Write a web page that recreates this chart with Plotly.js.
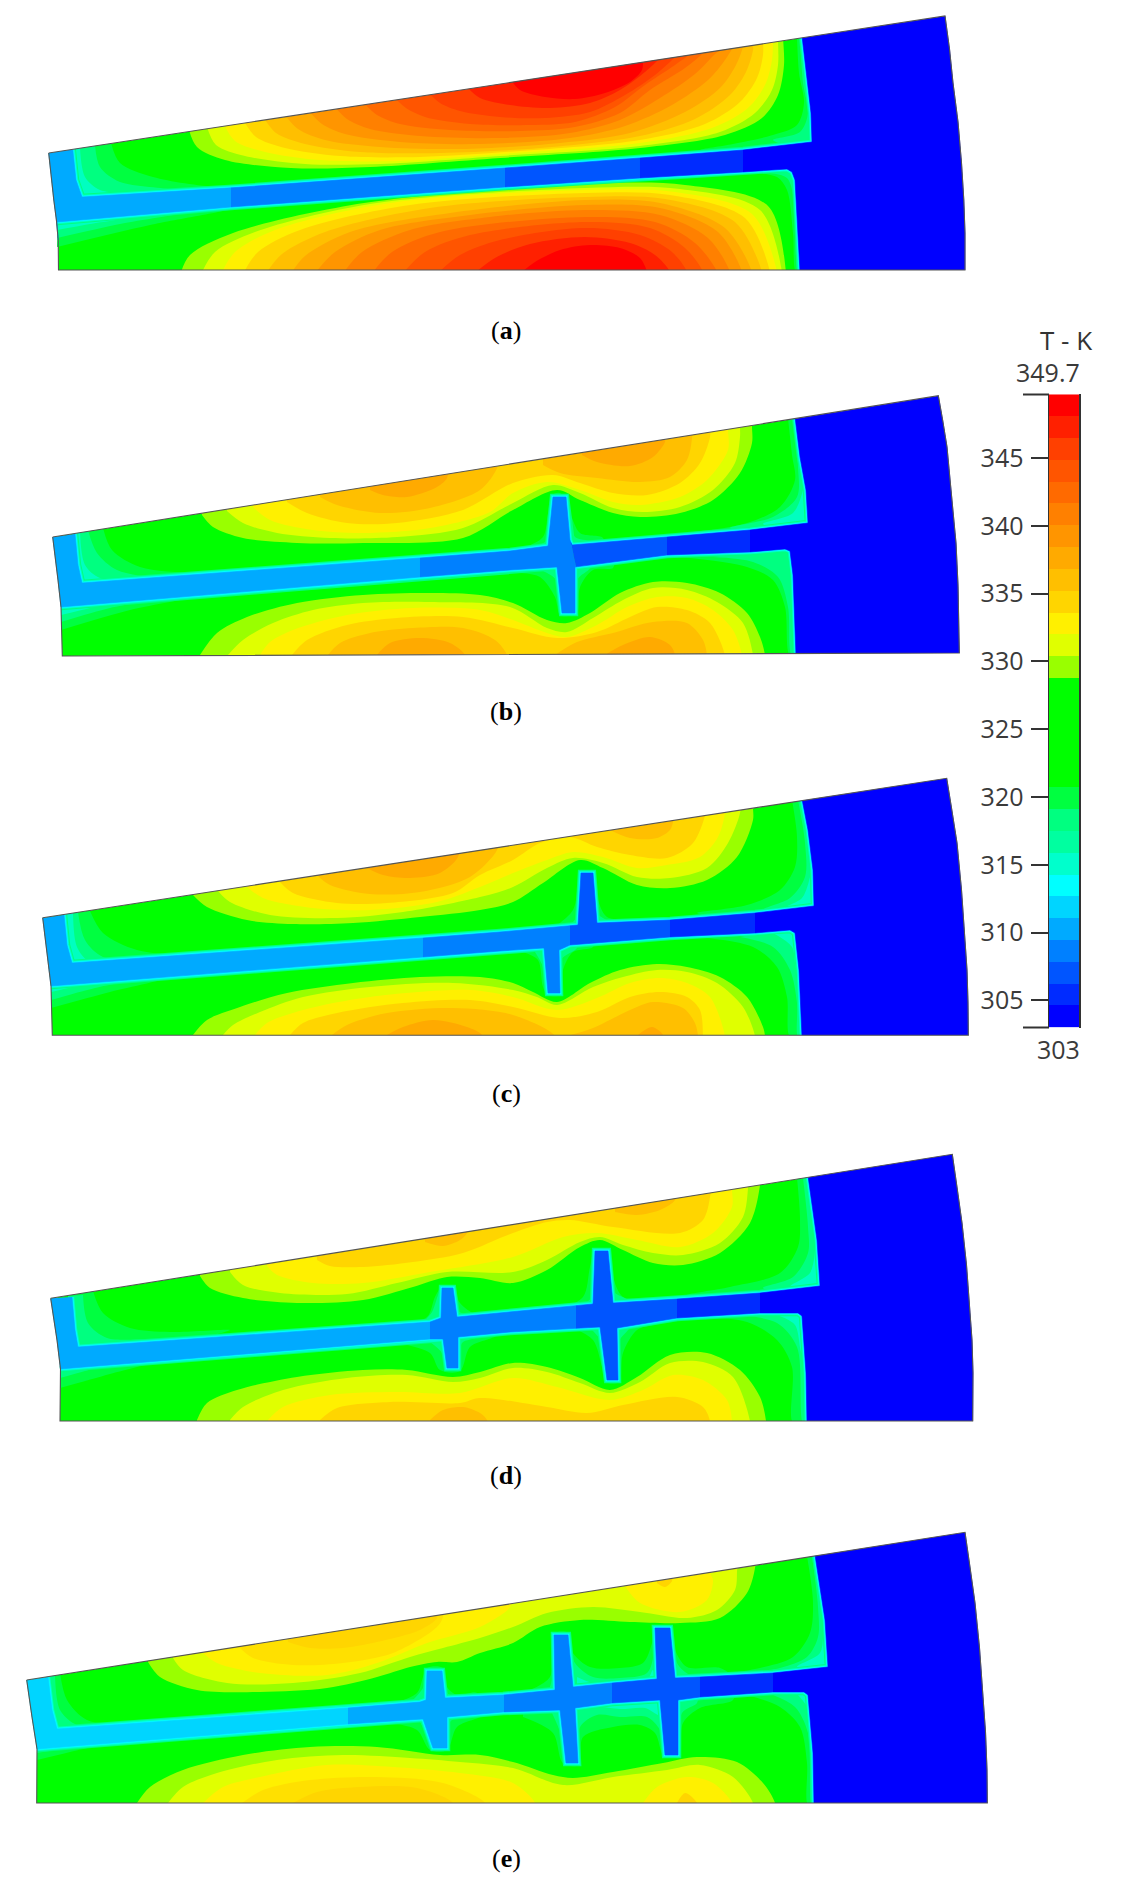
<!DOCTYPE html>
<html><head><meta charset="utf-8">
<script src="https://cdn.plot.ly/plotly-3.0.1.min.js"></script>
<style>html,body{margin:0;padding:0;background:#fff}#c{width:1139px;height:1903px}#c .scatterlayer{filter:blur(0.55px)}</style>
</head><body><div id="c"></div>
<script>
// ---------- colour scale ----------
const bandEdges=[303,304.61,306.22,307.83,309.44,311.05,312.66,314.27,315.88,317.49,319.10,320.71,322.32,323.93,325.54,327.16,328.77,330.38,331.99,333.60,335.21,336.82,338.43,340.04,341.65,343.26,344.87,346.48,348.09,349.7];
const bandColors=['#0000ff','#002bff','#0055ff','#0080ff','#00aaff','#00d5ff','#00ffff','#00ffcc','#00ffa0','#00ff80','#00ff40','#00ff00','#00ff00','#00ff00','#00ff00','#00ff00','#99ff00','#e0ff00','#fff000','#ffd500','#ffbf00','#ffaa00','#ff9500','#ff8000','#ff6a00','#ff5500','#ff4000','#ff2000','#ff0000'];
const bandTemps=[303.8,305.4,307,308.6,310.2,311.9,313.5,315.1,316.7,318.3,319.9,321.5,323.1,324.7,326.3,328,329.6,331.2,332.8,334.4,336,337.6,339.2,340.8,342.5,344.1,345.7,347.3,348.9];
const scaleTicks=[305,310,315,320,325,330,335,340,345];
const level={'00':'#ff0000','2a':'#ff2000','40':'#ff4000','55':'#ff5500','6a':'#ff6a00','80':'#ff8000','95':'#ff9500','aa':'#ffaa00','bf':'#ffbf00','d5':'#ffd500','de':'#ffe000','ee':'#fff000','e0':'#e0ff00','99':'#99ff00','g1':'#00ff40','g2':'#00ff80','g3':'#00ffc0','c1':'#00e5ff','c2':'#00aaff'};
const coldColors={aa:'#00aaff',d5:'#00d5ff','80':'#0080ff','55':'#0055ff','2b':'#002bff','00':'#0000ff'};
const captions=['a','b','c','d','e'];
const captionY=[330,711,1093,1475,1858];

// ---------- panel (a) ----------
const aEdge={tl:[48.7,153],tr:[945,16],right:[949.5,49,953,83,958,122,961.5,163,963.8,200,965,233],br:[965,270],bl:[58.5,270],left:[58.2,240,56.4,220,53.8,200]};
const aWallUp=[72.7,149,76,180,82,197,229,188,505,168,640,158,743,150,812,142,811,113,806,70,802,36];
const aWallLo=[57,222,231,207,505,187,640,178,743,172,787,169,792,172,795,180,798,233,800,272];
const aSplits=[[231,231],[505,505],[640,640],[743,743]];
const aCold=['aa','80','55','2b','00'];
const aUpper=[
['99',[189,130,197,147,225,160,291,168,370,167,500,158,640,148,725,135,762,118,778,95,784,65,783,36]],
['e0',[207,127,216,145,245,156,305,164,380,164,500,156,640,146,720,132,755,113,772,90,778,65,778,38]],
['ee',[224,124,235,141,265,152,320,160,400,161,500,154,640,143,712,128,748,108,765,85,772,60,773,38]],
['d5',[244,121,256,137,285,148,340,156,420,157,520,151,640,140,705,124,740,102,757,78,763,55,763,40]],
['bf',[264,118,276,133,305,144,360,152,440,153,540,148,640,136,695,119,730,95,746,72,753,50,753,42]],
['aa',[285,115,298,129,325,140,380,147,460,149,560,143,630,133,685,112,720,88,736,65,743,46]],
['95',[309,111,322,124,345,134,400,142,480,144,570,138,625,126,672,105,708,80,725,60,733,46]],
['80',[335,107,347,119,370,129,420,136,500,138,570,133,620,120,660,98,695,74,714,55,722,47]],
['6a',[364,103,377,115,400,124,450,130,520,131,575,127,620,113,650,90,685,68,702,54,707,47]],
['55',[395,98,406,108,425,117,470,124,530,125,575,122,615,107,645,85,675,65,690,54,695,49]],
['40',[429,93,440,103,460,111,500,117,545,118,590,112,625,95,655,75,672,60,682,50]],
['2a',[467,87,480,98,510,105,550,108,590,103,620,90,645,72,660,58,665,52]],
['00',[511,80,520,90,545,97,575,99,605,93,630,82,642,70,643,58]]];
const aLower=[
['99',[181,272,190,255,233,233,364,203,585,184,685,185,768,206,786,272]],
['e0',[202,272,215,252,255,232,370,204,585,188,680,189,760,210,782,272]],
['ee',[222,272,235,252,275,230,390,203,585,190,675,192,752,214,777,272]],
['d5',[244,272,258,252,300,230,410,205,585,193,670,195,745,218,770,272]],
['bf',[267,272,282,254,325,232,430,208,585,197,665,199,735,222,762,272]],
['aa',[292,272,305,256,350,232,450,213,585,200,660,203,725,228,752,272]],
['95',[316,272,335,252,380,230,470,215,585,205,660,208,718,232,742,272]],
['80',[344,272,362,252,410,230,490,217,585,210,660,215,708,238,730,272]],
['6a',[373,272,392,252,440,232,585,217,655,222,695,243,717,272]],
['55',[404,272,425,252,470,235,585,222,650,228,685,248,703,272]],
['40',[439,272,460,255,500,240,585,228,640,235,672,252,687,272]],
['2a',[476,272,495,258,530,244,585,237,630,243,655,255,670,272]],
['00',[522,272,535,262,560,250,590,245,620,248,640,258,647,272]]];
const aFans=[
['g1',[111,143,120,163,153,177,218,187,265,185,82,200,70,143]],
['g1',[57,247,150,225,235,208,58,222]],
['g1',[797,36,799,73,804,103,797,125,773,135,733,144,700,150,812,146,800,36]],
['g1',[753,173,777,177,787,190,793,233,796,272,801,272,793,168]],
['g2',[95,145,100,167,120,182,170,190,82,200,70,145]],
['g2',[57,238,120,224,182,213,58,222]],
['g2',[800,36,803,83,808,113,800,132,773,140,812,146,803,36]],
['g2',[770,173,787,178,794,200,798,272,801,272,793,168]],
['g3',[80,148,85,177,100,190,125,194,80,200,70,148]],
['g3',[57,230,90,224,127,218,58,222]]];

// ---------- panel (b) ----------
const bEdge={tl:[52.7,537],tr:[938.3,395.7],right:[942.8,421,947,447,951,490,956,543,958,585,959,627],br:[959.3,653],bl:[62.3,656],left:[61,607,58,580]};
const bWallUp=[75,534,78,565,82,583,420,558,510,551,548,546,553,497,566,497,570,540,572,545,667,537,750,530,808,523,806,490,800,457,795,417];
const bWallLo=[61,607,420,577,510,570,557,567,562,613,575,613,575,567,667,555,750,552,785,549,790,551,793,575,795,620,796,656];
const bSplits=[[420,420],[571,576],[667,667],[750,750]];
const bCold=['aa','80','55','2b','00'];
const bUpper=[
['99',[202,515,213,527,243,538,297,543,363,543,463,538,513,510,557,490,580,500,613,513,640,517,680,513,713,500,740,473,752,443,752,427]],
['e0',[227,511,243,523,277,533,330,538,397,537,463,528,513,503,553,485,580,493,613,508,643,512,680,507,713,490,735,463,740,437,740,427]],
['ee',[253,507,270,520,313,530,363,533,430,528,490,512,513,493,547,482,580,490,613,502,640,505,680,497,707,480,728,450,728,430]],
['d5',[287,502,307,513,347,523,397,523,463,510,513,483,553,475,580,483,613,493,647,495,680,483,700,463,710,437,710,425]],
['bf',[320,497,337,505,380,513,430,508,480,490,497,468]],
['bf',[543,465,560,473,597,478,640,482,670,477,687,460,692,438]],
['aa',[370,490,383,495,407,497,437,487,447,478]],
['aa',[582,455,597,462,630,466,653,457,665,442,665,438]]];
const bLower=[
['99',[200,655,217,633,247,617,297,603,363,595,430,593,480,595,513,603,547,620,567,623,590,613,620,593,653,582,687,583,720,593,747,613,760,637,765,655]],
['e0',[228,655,243,640,273,623,313,610,363,603,430,602,510,607,547,628,567,632,593,618,623,600,653,588,687,590,717,602,743,623,753,655]],
['ee',[260,655,270,642,293,630,347,615,413,608,480,610,513,620,547,633,567,637,597,625,627,607,657,597,687,598,713,610,733,630,742,655]],
['d5',[292,655,307,640,347,625,397,618,463,617,513,628,557,638,597,632,630,617,657,607,687,610,710,623,725,655]],
['bf',[328,655,340,643,370,633,413,628,463,628,495,640,507,655]],
['bf',[555,655,577,642,613,633,653,622,687,623,703,640,707,655]],
['aa',[377,655,390,643,420,638,450,643,465,655]],
['aa',[605,655,623,645,650,637,670,645,675,655]]];
const bFans=[
['g1',[103,528,112,550,140,567,197,573,263,571,82,590,75,530]],
['g1',[61,630,130,610,197,596,61,607]],
['g1',[788,418,792,455,795,480,780,507,747,523,687,533,647,538,810,530,800,418]],
['g1',[680,557,747,567,773,580,785,607,790,656,800,656,790,545]],
['g1',[523,548,543,537,548,513,552,495,560,493,570,513,580,533,603,538,603,552,523,552]],
['g1',[520,573,540,577,555,597,560,615,568,616,577,613,580,587,593,570,613,568,613,560,520,565]],
['g2',[88,530,97,553,117,570,160,578,197,577,82,590,75,532]],
['g2',[61,622,110,608,157,599,61,607]],
['g2',[793,418,798,467,797,497,773,517,730,528,812,530,800,418]],
['g2',[713,557,753,562,778,577,788,607,792,656,800,656,790,545]],
['g2',[540,545,550,537,552,507,560,496,567,510,575,537,590,542,590,552,540,552]],
['g2',[543,571,556,580,561,614,575,614,577,580,590,568,590,560,543,565]],
['g3',[80,531,85,565,100,578,130,581,82,590,72,533]],
['g3',[61,615,90,608,113,603,61,607]],
['g3',[803,490,793,513,763,524,812,530]],
['c1',[805,505,808,520,790,523,812,525]]];

// ---------- panel (c) ----------
const cEdge={tl:[42.7,917.7],tr:[946.7,778.3],right:[951.5,808,957,843,961.5,890,965,937,967,970,968,1003],br:[968.3,1035.3],bl:[52.3,1035.3],left:[51,986,47,953]};
const cWallUp=[64,915,67,945,72,963,423,938,500,932,578,925,581,873,593,873,597,923,670,920,755,913,814,906,813,870,808,830,802,799];
const cWallLo=[51,986,423,957,500,951,544,948,548,993,560,993,559,950,570,945,670,937,755,933,790,930,795,933,799,970,802,1037];
const cSplits=[[423,423],[570,570],[670,670],[755,755]];
const cCold=['aa','80','55','2b','00'];
const cUpper=[
['99',[193,895,207,907,247,920,293,924,353,923,420,917,480,910,513,902,543,883,580,860,603,868,637,885,670,888,707,880,737,857,753,820,753,808]],
['e0',[218,891,230,902,270,915,337,918,403,912,480,897,513,887,547,868,573,858,603,863,637,877,670,878,707,868,728,843,740,813]],
['ee',[247,887,263,898,313,908,370,910,437,902,480,887,513,873,547,860,573,852,603,857,637,868,667,865,700,857,718,837,725,813]],
['d5',[280,882,293,893,337,903,387,903,453,893,480,875,513,860,540,843,570,837,597,847,630,855,667,858,693,843,705,815]],
['bf',[318,876,330,885,370,894,420,892,470,877,497,850]],
['bf',[610,830,630,838,657,838,670,830,673,822]],
['aa',[367,868,383,875,410,878,440,873,458,857]]];
const cLower=[
['99',[193,1035,207,1020,240,1007,287,993,353,983,420,977,480,977,513,983,533,992,557,1002,590,983,620,970,657,964,687,967,720,977,747,997,763,1027,765,1036]],
['e0',[223,1035,233,1025,260,1012,303,997,370,987,453,983,513,990,537,997,557,1005,593,987,623,977,657,970,687,972,717,983,743,1007,755,1036]],
['ee',[255,1035,267,1023,303,1010,370,997,470,990,513,997,557,1010,597,998,630,983,660,978,687,983,710,997,725,1036]],
['d5',[290,1035,303,1023,337,1013,403,1003,470,1000,513,1007,560,1018,597,1012,630,997,660,992,687,997,700,1010,703,1036]],
['bf',[332,1035,347,1025,387,1013,453,1008,513,1015,555,1036]],
['bf',[567,1036,593,1028,630,1010,653,1002,683,1008,695,1023,698,1036]],
['aa',[387,1035,403,1027,433,1020,467,1027,482,1035]],
['aa',[638,1035,652,1027,663,1035]]];
const cFans=[
['g1',[90,911,103,933,137,950,187,955,260,952,72,970,60,913]],
['g1',[51,1008,110,992,170,977,51,986]],
['g1',[792,800,797,837,795,867,780,890,747,905,697,913,815,915,805,800]],
['g1',[697,937,753,947,777,967,787,997,790,1037,803,1037,795,925]],
['g1',[553,928,573,910,578,883,580,872,593,872,597,897,607,917,637,922,637,935,553,935]],
['g1',[523,952,538,960,543,987,548,995,560,995,563,970,573,952,593,947,593,940,523,945]],
['g2',[78,912,85,940,103,957,153,960,72,970,62,914]],
['g2',[51,1000,95,988,137,979,51,986]],
['g2',[798,800,805,843,805,877,790,898,763,910,815,915,805,800]],
['g2',[740,937,773,947,790,970,797,1003,798,1037,803,1037,795,925]],
['g2',[570,925,579,913,580,873,594,873,597,913,610,923,610,935,570,935]],
['g2',[535,952,543,967,548,994,561,994,561,960,577,948,577,940,535,945]],
['g3',[73,913,77,947,90,962,120,963,72,970,62,914]],
['g3',[51,992,72,987,93,982,51,986]],
['g3',[810,877,802,898,780,910,815,910]],
['g3',[773,933,792,947,797,970,803,970,795,925]],
['c1',[814,897,808,905,800,907,815,908]]];

// ---------- panel (d) ----------
const dEdge={tl:[50.7,1298.3],tr:[952.3,1154.3],right:[957,1187,962,1223,966.5,1265,970,1307,972,1340,973,1373],br:[972.7,1421],bl:[60,1421],left:[60.5,1369,57,1340]};
const dWallUp=[72,1297,75,1330,78,1347,430,1322,441,1318,442,1288,453,1288,457,1317,510,1312,593,1304,595,1251,608,1251,613,1303,677,1299,760,1293,820,1286,817,1240,808,1176];
const dWallLo=[60,1369,430,1339,443,1339,447,1368,458,1368,458,1337,510,1332,600,1327,607,1380,618,1380,617,1328,677,1318,760,1313,798,1313,802,1316,806,1373,807,1423];
const dSplits=[[430,430],[576,576],[677,677],[760,760]];
const dCold=['aa','80','55','2b','00'];
const dUpper=[
['99',[200,1276,210,1288,243,1298,297,1303,363,1300,413,1287,447,1277,480,1278,513,1283,547,1270,580,1247,600,1240,623,1250,653,1263,683,1265,720,1253,750,1223,760,1185]],
['e0',[230,1272,243,1285,280,1293,347,1294,397,1283,447,1272,513,1272,547,1260,580,1242,600,1237,623,1245,653,1253,683,1255,720,1243,743,1217,748,1188]],
['ee',[267,1266,277,1275,313,1283,363,1283,430,1272,513,1257,563,1237,597,1233,637,1240,680,1247,713,1233,732,1207,732,1190]],
['d5',[317,1260,330,1266,363,1267,413,1262,463,1253,513,1233,547,1222,570,1220,613,1227,680,1233,703,1220,710,1197]],
['bf',[425,1242,443,1246,460,1240,467,1233]],
['bf',[615,1212,637,1215,660,1210,675,1200]]];
const dLower=[
['99',[197,1420,207,1403,237,1390,297,1377,363,1370,407,1370,453,1377,480,1372,513,1363,547,1367,580,1378,610,1390,637,1377,670,1355,707,1353,740,1370,760,1397,766,1421]],
['e0',[230,1420,243,1407,283,1390,347,1378,407,1375,453,1382,480,1378,513,1368,547,1372,580,1383,610,1393,640,1382,670,1363,703,1362,733,1377,750,1421]],
['ee',[268,1420,283,1407,330,1395,397,1392,460,1393,513,1378,557,1387,610,1400,643,1390,673,1375,703,1380,727,1400,732,1421]],
['d5',[320,1420,337,1408,390,1402,460,1403,480,1398,547,1407,587,1413,623,1405,677,1397,703,1407,710,1421]],
['bf',[430,1420,443,1410,463,1407,480,1413,487,1420]]];
const dFans=[
['g1',[93,1291,103,1313,130,1328,170,1332,230,1330,78,1352,68,1295]],
['g1',[60,1388,110,1374,157,1361,60,1369]],
['g1',[797,1178,800,1220,798,1247,780,1273,730,1287,687,1295,820,1292,810,1178]],
['g1',[693,1317,747,1322,777,1340,792,1367,793,1423,807,1423,802,1308]],
['g1',[397,1325,427,1317,435,1297,442,1287,453,1287,460,1303,477,1315,497,1315,497,1328,397,1335]],
['g1',[397,1343,430,1353,440,1370,460,1371,470,1347,497,1335,497,1328,397,1335]],
['g1',[557,1310,583,1297,590,1267,595,1250,609,1250,612,1273,623,1297,653,1300,653,1315,557,1320]],
['g1',[573,1328,593,1340,602,1367,606,1382,619,1382,623,1353,637,1330,660,1322,660,1315,573,1322]],
['g2',[83,1295,88,1323,107,1338,147,1340,78,1352,68,1296]],
['g2',[60,1378,85,1371,107,1365,60,1369]],
['g2',[803,1178,808,1227,808,1253,793,1277,763,1288,820,1292,810,1178]],
['g2',[740,1315,777,1323,797,1347,803,1423,807,1423,802,1308]],
['g2',[423,1322,432,1312,442,1288,453,1288,457,1310,470,1317,470,1328,423,1328]],
['g2',[430,1342,442,1353,446,1369,459,1369,462,1343,477,1337,477,1330,430,1335]],
['g2',[583,1305,595,1293,595,1252,608,1252,612,1290,630,1302,630,1315,583,1315]],
['g2',[590,1328,602,1343,606,1380,619,1380,618,1343,630,1327,630,1320,590,1322]],
['g3',[815,1250,810,1273,790,1287,820,1290]],
['g3',[777,1315,795,1325,802,1353,806,1353,802,1308]]];

// ---------- panel (e) ----------
const eEdge={tl:[26.7,1680],tr:[965,1532.3],right:[970,1567,975,1603,979.5,1648,983,1693,985.5,1732,987,1770],br:[987.3,1803],bl:[36.7,1803],left:[37,1749,32,1717]};
const eWallUp=[48,1677,52,1710,57,1729,348,1708,420,1702,426,1700,427,1671,442,1671,445,1698,503,1695,555,1690,554,1635,568,1635,573,1687,612,1683,657,1679,655,1628,670,1628,675,1678,700,1677,773,1673,828,1667,825,1620,815,1555];
const eWallLo=[37,1749,348,1724,423,1719,433,1748,447,1748,447,1717,503,1712,560,1710,566,1763,578,1763,575,1708,612,1703,660,1700,665,1755,678,1755,678,1700,700,1697,773,1692,804,1692,808,1695,813,1753,814,1805];
const eSplits=[[348,348],[504,504],[612,612],[700,700],[773,773]];
const eCold=['d5','aa','80','55','2b','00'];
const eUpper=[
['99',[148,1662,160,1677,197,1690,260,1692,327,1688,377,1677,410,1667,437,1662,457,1662,480,1653,513,1643,540,1627,580,1620,630,1622,680,1623,720,1618,747,1593,755,1568]],
['e0',[173,1658,183,1670,227,1683,293,1683,360,1673,410,1657,443,1648,480,1638,513,1627,547,1613,593,1607,640,1612,687,1618,717,1610,735,1590,737,1571]],
['ee',[203,1653,217,1663,260,1673,327,1675,377,1663,427,1643,480,1627,510,1607]],
['ee',[625,1586,640,1603,680,1612,707,1600,713,1580,710,1573]],
['de',[240,1648,253,1658,293,1665,343,1663,393,1653,437,1627,443,1617]],
['d5',[288,1642,310,1648,343,1648,377,1642,420,1630,437,1618]],
['d5',[657,1583,665,1587,672,1581]]];
const eLower=[
['99',[137,1803,150,1787,183,1770,243,1755,310,1747,377,1747,440,1755,480,1755,513,1762,553,1775,573,1778,613,1772,663,1763,697,1757,737,1762,763,1783,775,1803]],
['e0',[168,1803,183,1787,217,1773,277,1760,343,1755,410,1758,460,1762,513,1768,563,1785,613,1777,667,1770,700,1765,733,1777,753,1803]],
['ee',[203,1803,223,1787,260,1777,327,1765,393,1767,460,1773,513,1783,535,1803]],
['ee',[643,1803,657,1787,687,1777,713,1783,732,1803]],
['de',[242,1803,263,1790,310,1780,377,1777,443,1783,485,1803]],
['d5',[293,1803,317,1792,360,1787,417,1788,453,1803]],
['d5',[677,1803,685,1793,697,1803]]];
const eFans=[
['g1',[60,1673,67,1700,87,1720,127,1724,210,1720,57,1735,46,1675]],
['g1',[37,1760,70,1752,103,1744,37,1749]],
['g1',[807,1556,813,1603,810,1633,793,1657,760,1668,720,1675,828,1672,815,1556]],
['g1',[747,1695,780,1707,800,1727,807,1763,808,1805,816,1805,808,1688]],
['g1',[387,1705,417,1693,423,1677,427,1668,443,1668,447,1687,457,1695,477,1693,477,1710,387,1712]],
['g1',[387,1723,417,1730,430,1750,447,1750,457,1727,483,1715,483,1708,387,1715]],
['g1',[530,1690,550,1677,553,1640,555,1633,568,1633,573,1653,590,1667,620,1668,643,1663,652,1643,655,1627,670,1627,675,1650,687,1667,720,1668,733,1677,733,1685,530,1700]],
['g1',[523,1717,553,1733,563,1763,579,1765,583,1737,613,1727,640,1725,655,1733,664,1756,679,1756,683,1723,700,1708,733,1700,733,1690,523,1708]],
['g2',[55,1675,60,1710,77,1725,110,1727,57,1735,46,1677]],
['g2',[37,1753,55,1750,70,1747,37,1749]],
['g2',[812,1556,818,1607,818,1637,807,1657,780,1668,747,1673,828,1672,815,1556]],
['g2',[773,1695,795,1707,808,1733,812,1805,816,1805,808,1688]],
['g2',[413,1700,423,1688,428,1672,441,1672,447,1693,457,1698,457,1708,413,1708]],
['g2',[420,1722,429,1737,434,1749,446,1749,450,1722,460,1715,420,1712]],
['g2',[550,1687,554,1670,555,1636,567,1636,575,1663,593,1677,620,1678,647,1673,654,1653,656,1629,669,1629,677,1663,690,1675,720,1678,720,1685,550,1695]],
['g2',[552,1713,562,1737,567,1762,577,1762,580,1727,597,1715,620,1717,647,1717,660,1730,666,1754,677,1754,682,1713,697,1703,697,1695,552,1705]],
['g3',[577,1677,593,1683,620,1685,647,1680,653,1670,656,1680,577,1690]],
['g3',[578,1710,600,1707,620,1709,645,1708,660,1715,660,1698,578,1702]],
['g3',[823,1630,820,1653,797,1667,828,1670]],
['g3',[795,1692,807,1707,813,1740,815,1740,808,1690]],
['c1',[827,1650,825,1663,805,1667,828,1668]]];

// ---------- build ----------
function xy(f){const x=[],y=[];for(let i=0;i<f.length;i+=2){x.push(f[i]);y.push(f[i+1]);}return [x,y];}
function poly(f,color,shape,w){const p=xy(f);return {type:'scatter',mode:'lines',x:p[0],y:p[1],fill:'toself',fillcolor:color,hoverinfo:'skip',showlegend:false,
  line:{shape:shape||'spline',smoothing:0.9,width:w||0,color:color}};}
function stroke(f,color,w){const p=xy(f);return {type:'scatter',mode:'lines',x:p[0],y:p[1],hoverinfo:'skip',showlegend:false,line:{color:color,width:w,shape:'linear'}};}
function cut(wall,xs){for(let i=0;i+3<wall.length;i+=2){const x0=wall[i],x1=wall[i+2];
  if(x0<=xs&&xs<x1){const t=(xs-x0)/(x1-x0);return {i:i,pt:[xs,wall[i+1]+t*(wall[i+3]-wall[i+1])]};}}return null;}
function revPairs(f){const o=[];for(let i=f.length-2;i>=0;i-=2){o.push(f[i],f[i+1]);}return o;}

const traces=[];
function panel(E,up,lo,splits,cold,upper,lower,fans){
  const wedge=[...E.tl,...E.tr,...E.right,...E.br,...E.bl,...E.left];
  traces.push(poly(wedge,'#00ff00','linear'));
  upper.forEach(l=>{const f=l[1],n=f.length;traces.push(poly([...f,f[n-2],f[n-1]-8,f[0],f[1]-8],level[l[0]]));});
  lower.forEach(l=>{const f=l[1],n=f.length;traces.push(poly([...f,f[n-2],f[n-1]+8,f[0],f[1]+8],level[l[0]]));});
  fans.forEach(l=>traces.push(poly(l[1],level[l[0]])));
  [['#00ff80',6.5],['#00ffc0',4.5],['#00ffff',2.6]].forEach(h=>{traces.push(stroke(up,h[0],h[1]));traces.push(stroke(lo,h[0],h[1]));});
  let pu=0,pl=0,su=null,sl=null;
  for(let k=0;k<=splits.length;k++){
    let f=[];
    if(su)f.push(...su);
    const cu=k<splits.length?cut(up,splits[k][0]):null, cl=k<splits.length?cut(lo,splits[k][1]):null;
    const uEnd=cu?cu.i+2:up.length, lEnd=cl?cl.i+2:lo.length;
    f.push(...up.slice(pu,uEnd));
    if(cu)f.push(...cu.pt);
    if(!cu)f.push(...E.tr,...E.right,...E.br);
    const lowPart=[];
    if(sl)lowPart.push(...sl);
    lowPart.push(...lo.slice(pl,lEnd));
    if(cl)lowPart.push(...cl.pt);
    f.push(...revPairs(lowPart));
    if(k===0)f.push(...E.left,...E.tl);
    traces.push(poly(f,coldColors[cold[k]],'linear',0.6));
    if(cu){pu=uEnd;pl=lEnd;su=cu.pt;sl=cl.pt;}
  }
  traces.push(poly([...E.tl,...E.tr,E.tr[0]+3,E.tr[1]-24,E.tl[0]-3,E.tl[1]-24],'#ffffff','linear'));
  traces.push(poly([...E.bl,...E.br,E.br[0]+3,E.br[1]+42,E.bl[0]-3,E.bl[1]+42],'#ffffff','linear'));
  traces.push(stroke([...wedge,...E.tl],'#555555',1.1));
}
panel(aEdge,aWallUp,aWallLo,aSplits,aCold,aUpper,aLower,aFans);
panel(bEdge,bWallUp,bWallLo,bSplits,bCold,bUpper,bLower,bFans);
panel(cEdge,cWallUp,cWallLo,cSplits,cCold,cUpper,cLower,cFans);
panel(dEdge,dWallUp,dWallLo,dSplits,dCold,dUpper,dLower,dFans);
panel(eEdge,eWallUp,eWallLo,eSplits,eCold,eUpper,eLower,eFans);

// colour bar drawn as a heatmap on its own temperature axis
const zMin=bandEdges[0],zMax=bandEdges[bandEdges.length-1];
const scale=[];
bandColors.forEach((c,i)=>{scale.push([(bandEdges[i]-zMin)/(zMax-zMin),c]);scale.push([(bandEdges[i+1]-zMin)/(zMax-zMin),c]);});
traces.push({type:'heatmap',xaxis:'x2',yaxis:'y2',x:[0,1],y:bandEdges,z:bandTemps.map(t=>[t]),zmin:zMin,zmax:zMax,colorscale:scale,showscale:false,hoverinfo:'skip',zsmooth:false});

const H=1903,W=1139;
const annFont={family:'Open Sans, sans-serif',size:25,color:'#3a3a3a'};
const annotations=captions.map((c,i)=>({xref:'x',yref:'y',x:506,y:captionY[i],text:'(<b>'+c+'</b>)',showarrow:false,font:{family:'Liberation Serif, serif',size:26,color:'#000'}}));
annotations.push({xref:'x',yref:'y',x:1066,y:340,text:'T - K',showarrow:false,font:{family:'Open Sans, sans-serif',size:26,color:'#333'}});
annotations.push({xref:'x',yref:'y',x:1048,y:372,text:'349.7',showarrow:false,font:annFont});
annotations.push({xref:'x',yref:'y',x:1058,y:1049,text:'303',showarrow:false,font:annFont});

const layout={width:W,height:H,margin:{l:0,r:0,t:0,b:0},paper_bgcolor:'#fff',plot_bgcolor:'rgba(0,0,0,0)',showlegend:false,
  xaxis:{domain:[0,1],range:[0,W],visible:false,fixedrange:true},
  yaxis:{domain:[0,1],range:[H,0],visible:false,fixedrange:true},
  xaxis2:{domain:[1049/W,1079/W],range:[0,1],visible:false,anchor:'y2'},
  yaxis2:{domain:[1-1027.6/H,1-394.3/H],range:[zMin,zMax],anchor:'x2',side:'left',tickmode:'array',tickvals:scaleTicks,ticks:'outside',ticklen:17,tickwidth:2,tickcolor:'#333',
    showgrid:false,zeroline:false,showline:true,linecolor:'#333',linewidth:1.5,mirror:true,tickfont:annFont,ticklabelstandoff:2},
  shapes:[
   {type:'line',xref:'x',yref:'y',x0:1023,x1:1049,y0:394.5,y1:394.5,line:{color:'#333',width:2}},
   {type:'line',xref:'x',yref:'y',x0:1023,x1:1049,y0:1027.5,y1:1027.5,line:{color:'#333',width:2}}],
  annotations:annotations};
Plotly.newPlot('c',traces,layout,{displayModeBar:false,staticPlot:true});
</script></body></html>
